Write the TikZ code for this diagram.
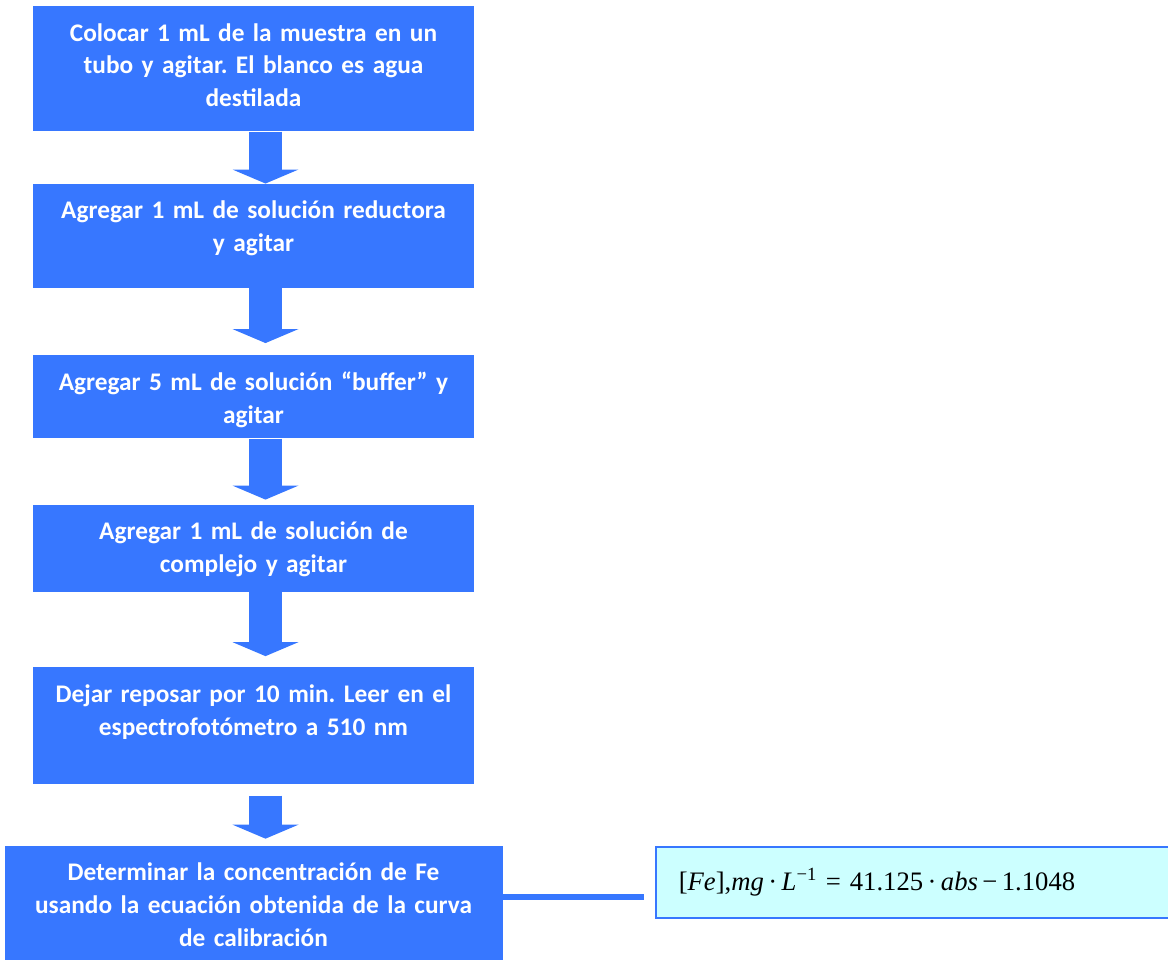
\documentclass[tikz,border=0pt]{standalone}
\usepackage{fontspec}
\setmainfont{Carlito}
\newfontfamily\eqfont{Liberation Serif}
\usetikzlibrary{arrows.meta,positioning}
\definecolor{azulpaso}{RGB}{55,119,255}
\definecolor{celeste}{RGB}{204,255,255}
\frenchspacing

\begin{document}
\begin{tikzpicture}[
    x=0.75pt, y=-0.75pt,
    every node/.style={
        font=\bfseries\fontsize{19}{24.5}\selectfont,
    },
    paso/.style={
        fill=azulpaso, text=white, anchor=north,
        text width=325pt, inner xsep=2.875pt, inner ysep=0pt,
        align=center, text height=26.25pt,
    },
    flecha/.style={
        draw=azulpaso, line width=24.75pt,
        -{Triangle[width=49.5pt, length=10.5pt, line width=0pt]},
    },
    enlace/.style={draw=azulpaso, line width=4.5pt},
    ecuacion/.style={
        draw=azulpaso, line width=1.5pt, fill=celeste, anchor=north west,
        minimum height=53.25pt, text width=359.25pt, inner xsep=17.25pt,
        align=left, font=\eqfont\fontsize{20}{24}\selectfont,
    },
]
    \useasboundingbox (0,0) rectangle (1168,960);
    % pasos
    \node[paso, text depth=67.5pt] (b1) at (253.5,6)
        {Colocar 1 mL de la muestra en un\\tubo y agitar. El blanco es agua\\destilada};
    \node[paso, text depth=51.75pt, below=39pt of b1] (b2)
        {Agregar 1 mL de solución reductora\\y agitar};
    \node[paso, text depth=36pt, below=50.25pt of b2] (b3)
        {Agregar 5 mL de solución “buffer” y\\agitar};
    \node[paso, text depth=39pt, below=49.5pt of b3] (b4)
        {Agregar 1 mL de solución de\\complejo y agitar};
    \node[paso, text depth=61.5pt, below=56.25pt of b4] (b5)
        {Dejar reposar por 10 min. Leer en el\\espectrofotómetro a 510 nm};
    \node[paso, text depth=67.5pt, text width=365pt, inner xsep=4.25pt,
        below=45.75pt of b5] (b6)
        {Determinar la concentración de Fe\\usando la ecuación obtenida de la curva\\de calibración};
    \node[ecuacion] (eq) at ([xshift=114pt]b6.north east)
        {[\textit{Fe}],\textit{mg}\,·\,\textit{L}\textsuperscript{−1} = 41.125\,·\,\textit{abs}\,−\,1.1048};
    % flechas
    \draw[flecha] ([xshift=9pt]b1.south) -- ([xshift=9pt]b2.north);
    \draw[flecha, shorten >=9pt] ([xshift=9pt]b2.south) -- ([xshift=9pt]b3.north);
    \draw[flecha, shorten >=3.75pt] ([xshift=9pt]b3.south) -- ([xshift=9pt]b4.north);
    \draw[flecha, shorten >=8.25pt] ([xshift=9pt]b4.south) -- ([xshift=9pt]b5.north);
    \draw[flecha, shorten <=8.25pt, shorten >=5.25pt] ([xshift=9pt]b5.south) -- ([xshift=9pt]b6.north);
    \draw[enlace, shorten >=8.25pt] ([yshift=8.6pt]b6.east) -- ([yshift=8.6pt]b6.east -| eq.west);
\end{tikzpicture}
\end{document}
